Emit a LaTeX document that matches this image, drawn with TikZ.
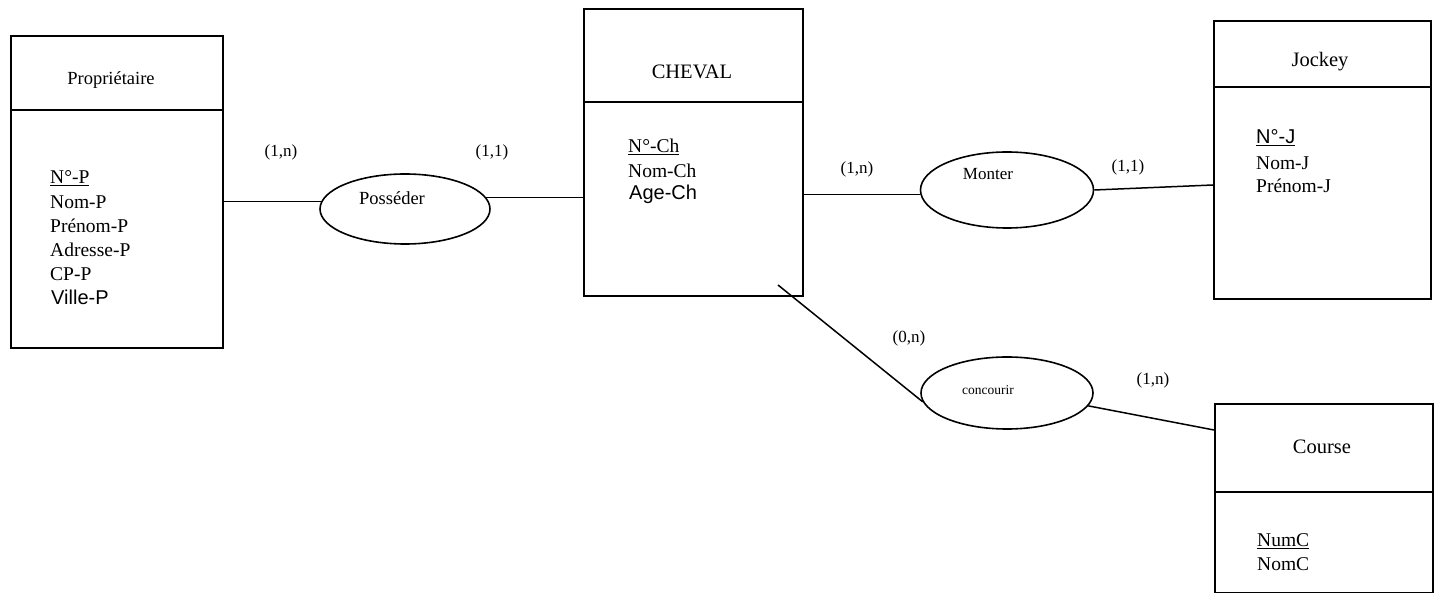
\documentclass[tikz,border=0pt]{standalone}
\usepackage{fontspec}
\setmainfont{Liberation Serif}
\newfontfamily\arialf{Liberation Sans}
\usetikzlibrary{shapes.geometric}
\begin{document}
\begin{tikzpicture}[x=1pt,y=-1pt,
  entity/.style={draw, line width=1.6pt, anchor=north west, inner sep=0pt},
  rel/.style={draw, ellipse, line width=1.6pt, inner sep=0pt},
  link/.style={line width=1.5pt},
  title/.style={font=\fontsize{20.5}{24}\selectfont},
  attr/.style={font=\fontsize{19.5}{23}\selectfont, anchor=west, inner sep=0pt},
  sattr/.style={font=\arialf\fontsize{20}{23}\selectfont, anchor=west, inner sep=0pt},
  card/.style={font=\fontsize{17}{20}\selectfont},
  rtext/.style={font=\fontsize{17}{20}\selectfont}]
\useasboundingbox (0,0) rectangle (1436,593);

% entities
\node[entity, minimum width=212pt, minimum height=312pt] (prop) at (10,35) {};
\node[entity, minimum width=219pt, minimum height=287pt] (cheval) at (583,8) {};
\node[entity, minimum width=217pt, minimum height=278pt] (jockey) at (1213,20) {};
\node[entity, minimum width=218pt, minimum height=189pt] (course) at (1214,403) {};

\draw[link] (prop.west |- 0,110) -- (prop.east |- 0,110);
\draw[link] (cheval.west |- 0,102) -- (cheval.east |- 0,102);
\draw[link] (jockey.west |- 0,87) -- (jockey.east |- 0,87);
\draw[link] (course.west |- 0,492) -- (course.east |- 0,492);

% titles
\node[title, font=\fontsize{18.5}{22}\selectfont] (propT) at (111,80) {Propriétaire};
\node[title] (chevalT) at (692,72) {CHEVAL};
\node[title] (jockeyT) at (1320,62) {Jockey};
\node[title] (courseT) at (1322,447) {Course};

% attributes
\node[attr] (p1) at (50,178) {\underline{N°-P}};
\node[attr] (p2) at (50,202) {Nom-P};
\node[attr] (p3) at (50,226) {Prénom-P};
\node[attr] (p4) at (50,250) {Adresse-P};
\node[attr] (p5) at (50,274) {CP-P};
\node[sattr] (p6) at (51,297) {Ville-P};

\node[attr] (c1) at (628,147) {\underline{N°-Ch}};
\node[attr] (c2) at (628,171) {Nom-Ch};
\node[sattr] (c3) at (629,194) {Age-Ch};

\node[sattr] (j1) at (1256,138) {\underline{N°-J}};
\node[attr] (j2) at (1256,163) {Nom-J};
\node[attr] (j3) at (1256,186) {Prénom-J};

\node[attr] (k1) at (1257,541) {\underline{NumC}};
\node[attr] (k2) at (1257,564) {NomC};

% relationships
\node[rel, minimum width=170pt, minimum height=70pt] (posr) at (405,209) {};
\node[rtext, font=\fontsize{18.5}{22}\selectfont] (posT) at (392,198) {Posséder};
\node[rel, minimum width=173pt, minimum height=76pt] (mont) at (1007,190) {};
\node[rtext] (montT) at (988,174) {Monter};
\node[rel, minimum width=172pt, minimum height=72pt] (conc) at (1007,393) {};
\node[font=\fontsize{13.5}{16}\selectfont] (concT) at (988,390) {concourir};

% connectors
\draw[link] (prop.east |- posr.175) -- (posr.175);
\draw[link] (posr.8) -- (cheval.west |- posr.8);
\draw[link] (cheval.east |- mont.183) -- (mont.183);
\coordinate (jin) at (1213,185);
\draw[link] (mont.east) -- (jin);
\coordinate (cstart) at (778,285);
\draw[link] (cstart) -- (conc.186);
\coordinate (kin) at (1214,430);
\draw[link] (conc.351) -- (kin);

% cardinalities
\node[card] (l1) at (281,152) {(1,n)};
\node[card] (l2) at (492,152) {(1,1)};
\node[card] (l3) at (857,169) {(1,n)};
\node[card] (l4) at (1128,167) {(1,1)};
\node[card] (l5) at (909,338) {(0,n)};
\node[card] (l6) at (1153,380) {(1,n)};
\end{tikzpicture}
\end{document}
